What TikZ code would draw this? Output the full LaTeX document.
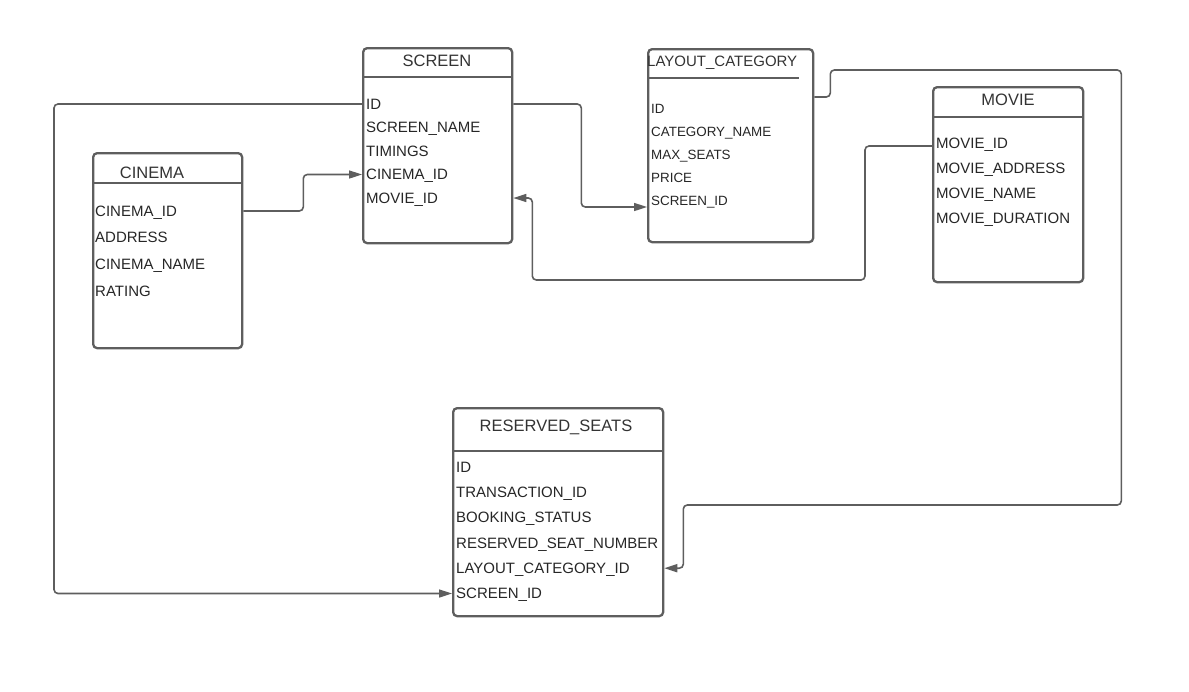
\documentclass[tikz,border=0pt]{standalone}
\usepackage{fontspec}
\setmainfont{Liberation Sans}
\usepackage{tikz}
\usetikzlibrary{arrows.meta}
\definecolor{edge}{HTML}{5E5E5E}
\tikzstyle{table} = [draw=edge, line width=2.3pt, rounded corners=4pt, anchor=north west, inner sep=0pt]
\tikzstyle{title} = [inner sep=0pt, text height=11.5pt, text depth=0pt, text=black!80, font=\fontsize{16.5}{18}\selectfont]
\tikzstyle{field} = [anchor=west, inner sep=0pt, text height=10.5pt, text depth=0pt, text=black!85, font=\fontsize{15}{17}\selectfont]
\tikzstyle{small} = [font=\fontsize{13.4}{15}\selectfont, text height=9.5pt]
\tikzstyle{rule} = [draw=edge, line width=2pt]
\tikzstyle{line} = [draw=edge, line width=1.6pt, rounded corners=4pt, -{Triangle[length=13pt, width=8pt]}]

\begin{document}
\begin{tikzpicture}[x=1pt, y=-1pt]
			\useasboundingbox (0,0) rectangle (1189,691);

			% tables
			\node [table, minimum width=149pt, minimum height=195pt] (screen) at (362,47) {};
			\node [title] at (437,61) {SCREEN};
			\draw [rule] ([yshift=-30pt]screen.north west) -- ([yshift=-30pt]screen.north east);
			\foreach \f [count=\i] in {ID, SCREEN\_NAME, TIMINGS, CINEMA\_ID, MOVIE\_ID}
				\node [field] (scr\i) at (366,{104+23.5*(\i-1)}) {\f};

			\node [table, minimum width=165pt, minimum height=193pt] (layout) at (647,48) {};
			\node [title, anchor=west, font=\fontsize{15}{17}\selectfont] at (647,61) {LAYOUT\_CATEGORY};
			\draw [rule] ([yshift=-30pt]layout.north west) -- ([yshift=-30pt, xshift=-15pt]layout.north east);
			\foreach \f [count=\i] in {ID, CATEGORY\_NAME, MAX\_SEATS, PRICE, SCREEN\_ID}
				\node [field, small] (lay\i) at (651,{109+23*(\i-1)}) {\f};

			\node [table, minimum width=149pt, minimum height=195pt] (cinema) at (92,152) {};
			\node [title] at (152,173) {CINEMA};
			\draw [rule] ([yshift=-31pt]cinema.north west) -- ([yshift=-31pt]cinema.north east);
			\foreach \f [count=\i] in {CINEMA\_ID, ADDRESS, CINEMA\_NAME, RATING}
				\node [field] (cin\i) at (95,{211+26.7*(\i-1)}) {\f};

			\node [table, minimum width=150pt, minimum height=195pt] (movie) at (932,86) {};
			\node [title] at (1008,100) {MOVIE};
			\draw [rule] ([yshift=-31pt]movie.north west) -- ([yshift=-31pt]movie.north east);
			\foreach \f [count=\i] in {MOVIE\_ID, MOVIE\_ADDRESS, MOVIE\_NAME, MOVIE\_DURATION}
				\node [field] (mov\i) at (936,{143+25*(\i-1)}) {\f};

			\node [table, minimum width=210pt, minimum height=208pt] (seats) at (452,407) {};
			\node [title] at (556,426) {RESERVED\_SEATS};
			\draw [rule] ([yshift=-44pt]seats.north west) -- ([yshift=-44pt]seats.north east);
			\foreach \f [count=\i] in {ID, TRANSACTION\_ID, BOOKING\_STATUS, RESERVED\_SEAT\_NUMBER, LAYOUT\_CATEGORY\_ID, SCREEN\_ID}
				\node [field] (res\i) at (456,{467+25.3*(\i-1)}) {\f};

			% relations
			\draw [line] (screen.west |- scr1) -- ++(-308,0) |- (seats.west |- res6);
			\draw [line] (cinema.east |- cin1) -- ++(60,0) |- (screen.west |- scr4);
			\draw [line] (screen.east |- scr1) -- ++(68,0) |- ([yshift=-6pt]layout.west |- lay5);
			\draw [line] ([yshift=-3pt]movie.west |- mov1) -- ++(-67,0) -- ++(0,134) -| ([xshift=19pt]screen.east |- scr5) -- (screen.east |- scr5);
			\draw [line] ([yshift=-49pt]layout.north east) -- ++(16,0) -- ++(0,-27) -- ++(291,0) -- ++(0,435) -| ([xshift=19pt]seats.east |- res5) -- (seats.east |- res5);
		\end{tikzpicture}
\end{document}
